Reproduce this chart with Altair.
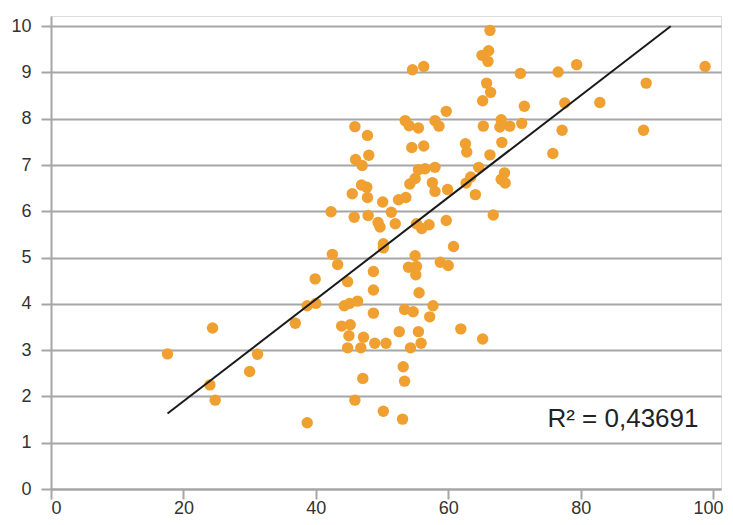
import altair as alt
import pandas as pd

xs = [17.6, 24.4, 24.0, 24.8, 30.0, 31.2, 36.9, 38.7, 40.0, 39.9, 38.7, 43.3, 44.8, 44.3, 45.1,
      46.3, 43.9, 45.2, 45.0, 44.8, 46.8, 47.2, 47.1, 45.9, 45.9, 47.8, 46.0, 47.0, 48.0, 46.9,
      47.7, 45.5, 47.8, 42.3, 45.8, 47.9, 42.5, 66.3, 66.1, 65.1, 66.0, 54.6, 56.3, 70.9, 76.6,
      79.4, 98.8, 89.9, 65.8, 66.4, 65.2, 71.5, 77.6, 82.9, 59.7, 53.5, 54.1, 55.5, 58.0, 58.6,
      65.3, 68.0, 67.8, 69.3, 71.1, 77.2, 89.5, 54.5, 56.3, 62.6, 62.8, 68.1, 66.3, 75.8, 55.5,
      56.5, 58.0, 55.0, 54.2, 57.6, 58.0, 59.9, 64.6, 63.4, 62.7, 64.1, 68.5, 68.0, 68.6, 66.8,
      50.1, 52.5, 53.6, 51.4, 49.4, 49.7, 52.0, 55.2, 56.0, 57.1, 59.7, 50.2, 50.2, 60.8, 55.0,
      54.0, 55.2, 58.8, 60.0, 48.7, 48.7, 48.7, 48.9, 50.6, 55.1, 55.6, 53.4, 54.7, 57.7, 57.2,
      52.6, 55.5, 55.9, 54.3, 61.9, 65.2, 53.2, 53.4, 50.2, 53.1]
ys = [2.92, 3.48, 2.25, 1.92, 2.54, 2.91, 3.58, 3.96, 4.01, 4.54, 1.43, 4.85, 4.48, 3.96, 4.01,
      4.06, 3.52, 3.55, 3.31, 3.05, 3.05, 3.28, 2.39, 1.92, 7.83, 7.64, 7.12, 6.99, 7.21, 6.57,
      6.52, 6.38, 6.30, 5.99, 5.87, 5.91, 5.07, 9.91, 9.47, 9.37, 9.24, 9.06, 9.13, 8.98, 9.01,
      9.17, 9.13, 8.77, 8.77, 8.57, 8.39, 8.27, 8.34, 8.35, 8.16, 7.96, 7.85, 7.80, 7.96, 7.84,
      7.84, 7.98, 7.82, 7.84, 7.90, 7.75, 7.75, 7.38, 7.41, 7.46, 7.28, 7.49, 7.22, 7.25, 6.90,
      6.92, 6.95, 6.71, 6.59, 6.62, 6.43, 6.47, 6.95, 6.74, 6.61, 6.36, 6.83, 6.69, 6.61, 5.92,
      6.20, 6.25, 6.30, 5.98, 5.76, 5.66, 5.73, 5.73, 5.63, 5.71, 5.80, 5.30, 5.21, 5.24, 5.04,
      4.79, 4.81, 4.90, 4.83, 4.70, 4.30, 3.80, 3.15, 3.15, 4.63, 4.24, 3.88, 3.83, 3.96, 3.72,
      3.40, 3.40, 3.15, 3.05, 3.46, 3.24, 2.64, 2.33, 1.68, 1.51]

x_ticks = [0, 20, 40, 60, 80, 100]
y_ticks = [0, 1, 2, 3, 4, 5, 6, 7, 8, 9, 10]
r2_label = ["R\u00b2 = 0,43691"]
r2_pos_x = [97.8]
r2_pos_y = [1.35]

df = pd.DataFrame({"x": xs, "y": ys})
df_text = pd.DataFrame({"x": r2_pos_x, "y": r2_pos_y, "label": r2_label})

FONT = "Liberation Sans"
GRAY = "#a6a6a6"
xscale = alt.Scale(domain=[0, 101.2], nice=False, zero=False)
yscale = alt.Scale(domain=[0, 10.22], nice=False, zero=False)

xaxis = alt.Axis(values=x_ticks, grid=False, title=None, tickColor=GRAY, tickWidth=2,
                 tickSize=10, domainColor=GRAY, domainWidth=2, labelFont=FONT,
                 labelFontSize=18, labelColor="#333333", labelPadding=0, format="d",
                 labelOffset=alt.ExprRef(expr="datum.value == 100 ? -5 : 0"))
yaxis = alt.Axis(values=y_ticks, grid=True, gridColor=GRAY, gridWidth=2, title=None,
                 tickColor=GRAY, tickWidth=2, tickSize=10, domainColor=GRAY, domainWidth=2,
                 labelFont=FONT, labelFontSize=18, labelColor="#333333", labelPadding=10,
                 format="d")

points = alt.Chart(df).mark_circle(size=130, color="#F0A030", opacity=1).encode(
    x=alt.X("x:Q", scale=xscale, axis=xaxis),
    y=alt.Y("y:Q", scale=yscale, axis=yaxis),
)

line = alt.Chart(df).transform_regression("x", "y").transform_joinaggregate(
    x0="min(x)", x1="max(x)", y0="min(y)", y1="max(y)"
).transform_calculate(
    xc="datum.y > 10 ? datum.x0 + (10 - datum.y0) * (datum.x1 - datum.x0) / (datum.y1 - datum.y0) : datum.x",
    yc="min(datum.y, 10)",
).mark_line(color="#1a1a1a", strokeWidth=2).encode(
    x=alt.X("xc:Q", scale=xscale),
    y=alt.Y("yc:Q", scale=yscale),
)

text = alt.Chart(df_text).mark_text(align="right", baseline="alphabetic", fontSize=26,
                                    font=FONT, color="#222222").encode(
    x=alt.X("x:Q", scale=xscale),
    y=alt.Y("y:Q", scale=yscale),
    text="label:N",
)

chart = alt.layer(points, line, text).properties(
    width=670, height=473,
    autosize=alt.AutoSizeParams(type="none"),
    padding={"left": 43, "top": 8, "right": 4, "bottom": 28},
).configure_view(stroke=None).configure(background="white")

chart.save("out.html", embed_options={"renderer": "svg", "actions": False})
